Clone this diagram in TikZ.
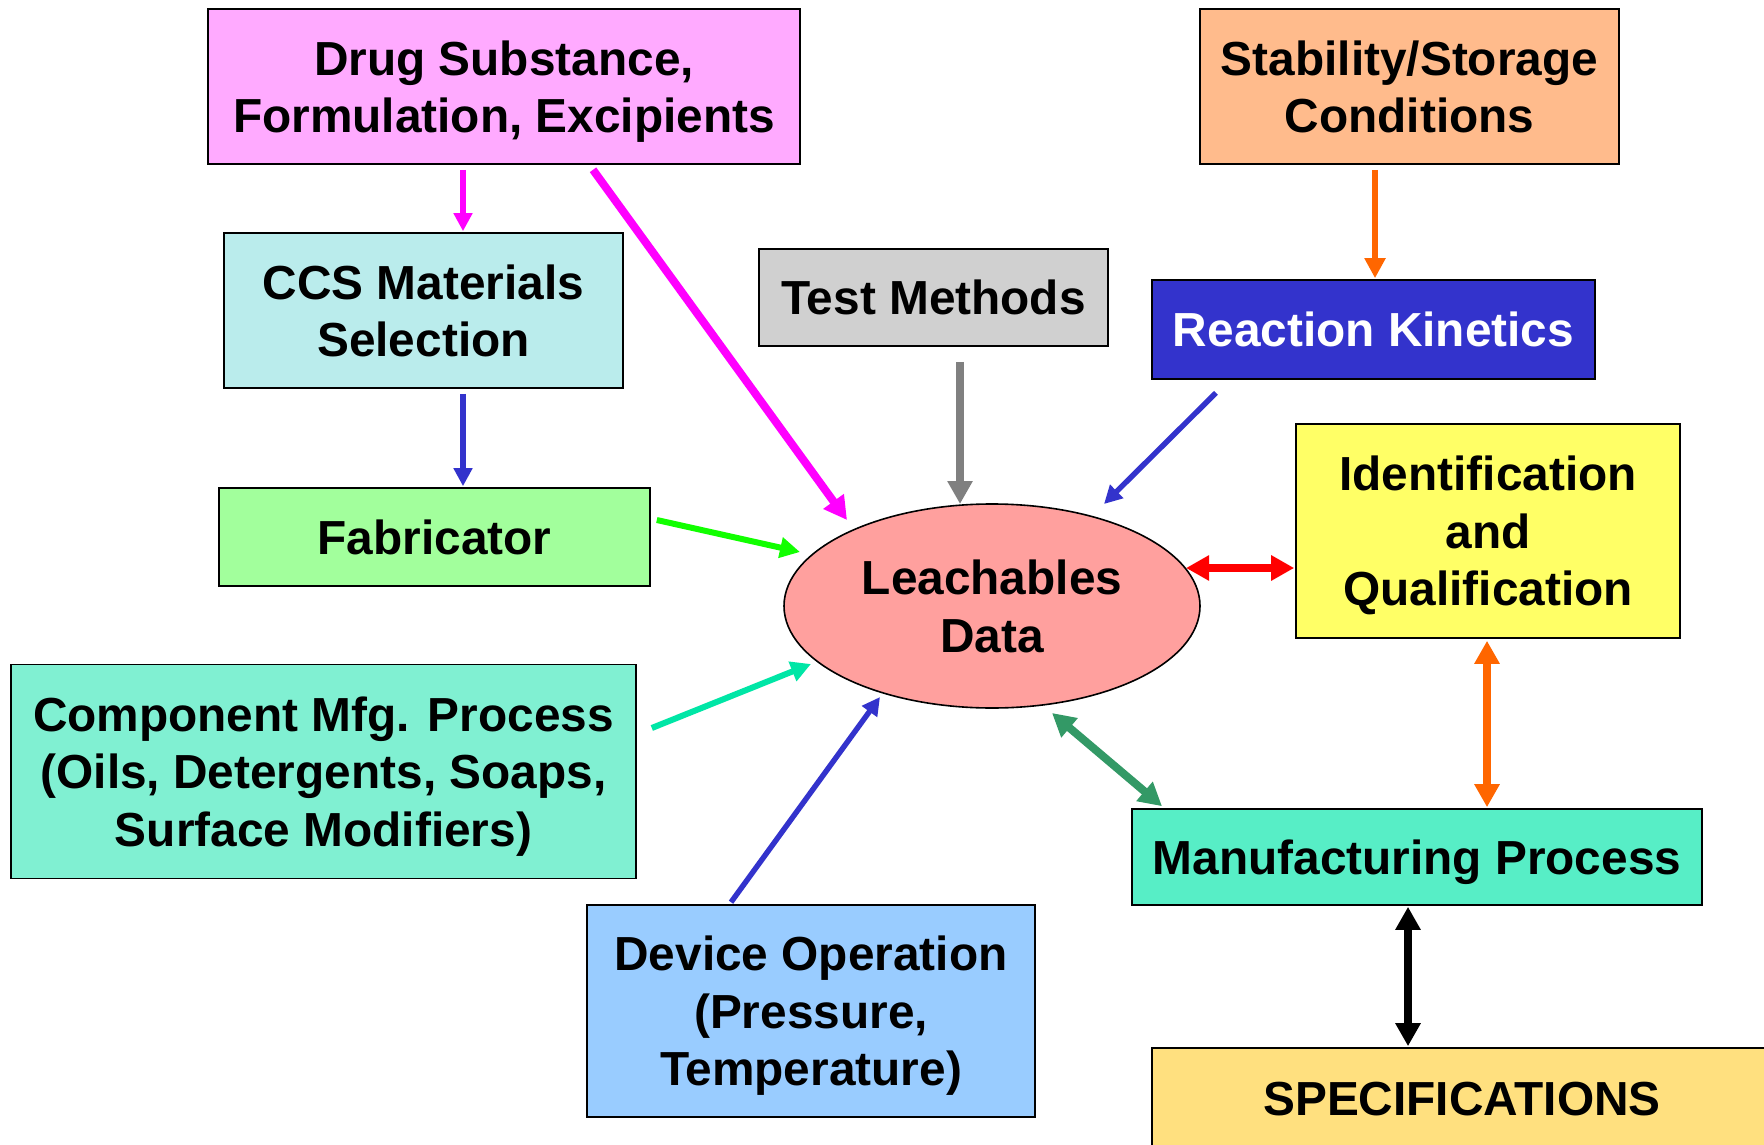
\documentclass[tikz,border=0pt]{standalone}
\usepackage{fontspec}
\setmainfont{Liberation Sans}
\usetikzlibrary{arrows.meta,shapes.geometric,calc}
\definecolor{cDrug}{HTML}{FFAAFF}
\definecolor{cStab}{HTML}{FFBB8C}
\definecolor{cCCS}{HTML}{BAECEC}
\definecolor{cTest}{HTML}{D0D0D0}
\definecolor{cReact}{HTML}{3333CC}
\definecolor{cFab}{HTML}{A2FF9C}
\definecolor{cIdent}{HTML}{FFFF66}
\definecolor{cLeach}{HTML}{FFA09E}
\definecolor{cComp}{HTML}{80F0D2}
\definecolor{cManuf}{HTML}{57EEC6}
\definecolor{cDevice}{HTML}{99CCFF}
\definecolor{cSpec}{HTML}{FFE07F}
\definecolor{aMag}{HTML}{FF00FF}
\definecolor{aBlue}{HTML}{3333CC}
\definecolor{aGray}{HTML}{808080}
\definecolor{aOrange}{HTML}{FF6600}
\definecolor{aGreen}{HTML}{11FF00}
\definecolor{aTeal}{HTML}{00E6A6}
\definecolor{aRed}{HTML}{FF0000}
\definecolor{aSea}{HTML}{339966}
\tikzset{
  box/.style={draw=black, line width=0.8pt, rectangle, inner sep=2pt, align=center,
    text depth=0pt, font=\fontsize{23.9}{28.7}\selectfont\bfseries},
  thinarr/.style={line width=2.7pt, -{Triangle[length=9pt,width=9pt]}},
  medarr/.style={line width=3pt, -{Triangle[length=10pt,width=10pt]}},
  thickarr/.style={line width=4pt, -{Triangle[length=11.5pt,width=12pt]}},
  thickdbl/.style={line width=4pt, {Triangle[length=11.5pt,width=12pt]}-{Triangle[length=11.5pt,width=12pt]}},
}
\begin{document}
\begin{tikzpicture}[x=0.5pt,y=-0.5pt]
\fill[white] (0,0) rectangle (1764,1144);
\clip (0,0) rectangle (1764,1144);
\useasboundingbox (0,0) rectangle (1764,1144);

\node[box, fill=cDrug, minimum width=296pt, minimum height=77.5pt] (drug) at (504,86.5) {Drug Substance,\\Formulation, Excipients};
\node[box, fill=cStab, minimum width=209.5pt, minimum height=77.5pt] (stab) at (1409.5,86.5) {Stability/Storage\\Conditions};
\node[box, fill=cCCS, minimum width=199.5pt, minimum height=77.5pt] (ccs) at (423.5,310.5) {CCS Materials\\Selection};
\node[box, fill=cTest, minimum width=174.5pt, minimum height=48.5pt] (test) at (933.5,297.5) {Test Methods};
\node[box, fill=cReact, text=white, minimum width=221.5pt, minimum height=49.5pt] (react) at (1373.5,329.5) {Reaction Kinetics};
\node[box, fill=cFab, minimum width=215.5pt, minimum height=49pt] (fab) at (434.5,537) {Fabricator};
\node[box, fill=cIdent, minimum width=192pt, minimum height=107pt] (ident) at (1488,531) {Identification\\and\\Qualification};
\node[box, ellipse, fill=cLeach, inner sep=0pt, minimum width=208pt, minimum height=102pt] (leach) at (992,606) {Leachables\\Data};
\node[box, fill=cComp, minimum width=312.5pt, minimum height=107pt] (comp) at (323.5,771.5) {Component Mfg. Process\\(Oils, Detergents, Soaps,\\Surface Modifiers)};
\node[box, fill=cManuf, minimum width=285pt, minimum height=48pt] (manuf) at (1417,857) {Manufacturing Process};
\node[box, fill=cDevice, minimum width=224pt, minimum height=106pt] (device) at (811,1011) {Device Operation\\(Pressure,\\Temperature)};
\node[box, fill=cSpec, minimum width=310pt, minimum height=51pt] (spec) at (1462,1099) {SPECIFICATIONS};

% connectors
\draw[thinarr, aMag] ($(drug.south)+(-41,5)$) -- ($(ccs.north)+(39.5,-1)$);
\draw[thickarr, aMag] ($(drug.south)+(89,5)$) -- ($(leach.center)+(-145,-86)$);
\draw[thinarr, aBlue] ($(ccs.south)+(39.5,5)$) -- ($(fab.north)+(28.5,-1)$);
\draw[thickarr, aGray] ($(test.south)+(26.5,15)$) -- ($(leach.center)+(-32,-102)$);
\draw[medarr, aOrange] ($(stab.south)+(-34.5,5)$) -- ($(react.north)+(1.5,-1)$);
\draw[thinarr, aBlue] ($(react.south)+(-157.5,13)$) -- ($(leach.center)+(112,-102)$);
\draw[medarr, aGreen] ($(fab.east)+(6,-17)$) -- ($(leach.center)+(-192,-54)$);
\draw[medarr, aTeal] ($(comp.east)+(15,-43.5)$) -- ($(leach.center)+(-181,58)$);
\draw[thinarr, aBlue] ($(device.north)+(-80,-2)$) -- ($(leach.center)+(-112,91)$);
\draw[thickdbl, aRed] ($(leach.center)+(194,-38)$) -- ($(ident.west)+(-1,37)$);
\draw[thickdbl, aOrange] ($(ident.south)+(-1,2)$) -- ($(manuf.north)+(70,-1)$);
\draw[thickdbl, aSea] ($(leach.center)+(60,107)$) -- ($(manuf.north)+(-255,-2)$);
\draw[thickdbl, black] ($(manuf.south)+(-9,1)$) -- ($(spec.north)+(-54,-1)$);
\end{tikzpicture}
\end{document}
